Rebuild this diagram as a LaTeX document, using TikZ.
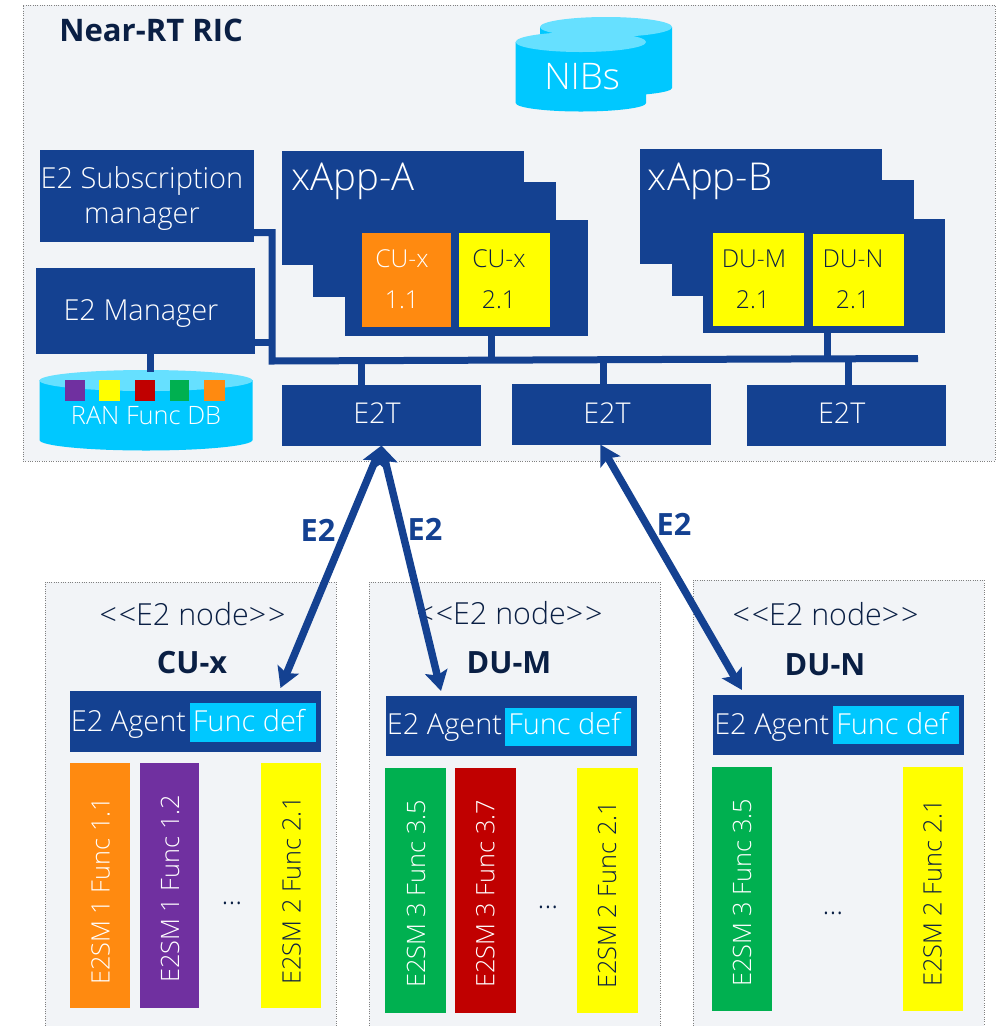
\documentclass[tikz,border=0pt]{standalone}
\usepackage{fontspec}
\setmainfont{Open Sans Light}[BoldFont={Open Sans Bold}]
\usetikzlibrary{arrows.meta}
\definecolor{navy}{HTML}{144191}
\definecolor{panel}{HTML}{F2F4F7}
\definecolor{inkdark}{HTML}{0A1F44}
\definecolor{sky}{HTML}{00C8FF}
\definecolor{skytop}{HTML}{66E0FF}
\definecolor{fnorange}{HTML}{FF8A10}
\definecolor{fnpurple}{HTML}{7030A0}
\definecolor{fnred}{HTML}{C00000}
\definecolor{fngreen}{HTML}{00B050}
\definecolor{fnyellow}{HTML}{FFFF00}
\newcommand{\fpx}[1]{\fontsize{#1}{#1}\selectfont}
\newcommand{\bx}[7]{%
  \pgfmathsetmacro\cxx{(#2+#4)/2}\pgfmathsetmacro\cyy{(#3+#5)/2}%
  \pgfmathsetmacro\wxx{(#4-#2)*0.75}\pgfmathsetmacro\hyy{(#5-#3)*0.75}%
  \node[#6,minimum width=\wxx pt,minimum height=\hyy pt,inner sep=0pt,outer sep=0pt] (#1) at (\cxx,\cyy) {#7};}
\newcommand{\nodetagtext}{<\kern1.5pt<E2 node>\kern1.5pt>}
\tikzset{
  box/.style={fill=navy},
  panelbox/.style={fill=panel},
  border/.style={draw=gray,densely dotted,line width=0.75pt},
  link/.style={draw=navy,line width=5.25pt},
  biarrow/.style={draw=navy,line width=5.6pt,{Stealth[length=15pt,width=17pt,inset=3pt]}-{Stealth[length=15pt,width=17pt,inset=3pt]}},
  wtxt/.style={text=white,anchor=base,inner sep=0pt,font=\fpx{21.7}},
  dtxt/.style={text=inkdark,anchor=base,inner sep=0pt,font=\fpx{21.7}},
  small/.style={font=\fpx{18.5}},
  e2ttxt/.style={font=\fpx{21.5}},
  nodetag/.style={font=\fpx{22.8}},
  fnw/.style={text=white,rotate=90,anchor=base,inner sep=0pt,font=\fpx{19}},
  fnd/.style={text=inkdark,rotate=90,anchor=base,inner sep=0pt,font=\fpx{19}},
  bold/.style={font=\fpx{23}\bfseries},
  e2lab/.style={text=navy,anchor=base,inner sep=0pt,font=\fpx{23}\bfseries},
}
\begin{document}
\begin{tikzpicture}[x=0.75pt,y=-0.75pt]
\useasboundingbox (0,0) rectangle (999,1026);
% main panel
\bx{ric}{23}{5}{995}{461}{panelbox,border}{}
\node[dtxt,anchor=base west,font=\fpx{23.3}\bfseries] (rictitle) at (59,41.7) {Near-RT RIC};
% NIBs
\fill[sky] (540,27) -- (540,88) arc[start angle=180,end angle=0,x radius=66,y radius=8] -- (672,27) -- cycle;
\fill[skytop] (606,27) ellipse[x radius=66,y radius=10];
\fill[sky] (515.7,42) -- (515.7,103) arc[start angle=180,end angle=0,x radius=65.2,y radius=8.5] -- (646,42) -- cycle;
\fill[skytop] (580.85,42) ellipse[x radius=65.2,y radius=10];
\node[wtxt,anchor=base west,font=\fpx{27.5}] (nibs) at (544,89) {NIBs};
% xApp stacks
\bx{xa1}{282}{151}{524}{265}{box}{}
\bx{xa2}{313}{181.5}{555.5}{297}{box}{}
\bx{xa3}{345}{220}{587.5}{336}{box}{}
\node[wtxt,anchor=base west,font=\fpx{28.8}] (xat) at (291,190.7) {xApp-A};
\bx{xb1}{640}{148.5}{882}{264}{box}{}
\bx{xb2}{671.5}{180}{913.5}{295.5}{box}{}
\bx{xb3}{703}{219}{945}{333}{box}{}
\node[wtxt,anchor=base west,font=\fpx{28.8}] (xbt) at (647.7,190.7) {xApp-B};
% RAN functions in xApps
\bx{ca}{362}{232.5}{451}{327}{fill=fnorange}{}
\bx{cb}{458.5}{232.5}{550}{327}{fill=fnyellow}{}
\bx{da}{713}{232.5}{804}{326}{fill=fnyellow}{}
\bx{db}{812.5}{234}{904}{326}{fill=fnyellow}{}
\node[wtxt,small] (cat) at (402,267.7) {CU-x};
\node[wtxt,small] (can) at (402,308) {1.1};
\node[dtxt,small] (cbt) at (499,267.7) {CU-x};
\node[dtxt,small] (cbn) at (499,308) {2.1};
\node[dtxt,small] (dat) at (754,267.7) {DU-M};
\node[dtxt,small] (dan) at (753,308) {2.1};
\node[dtxt,small] (dbt) at (853,267.7) {DU-N};
\node[dtxt,small] (dbn) at (853,308) {2.1};
% managers
\bx{sub}{39.5}{150}{253.5}{242}{box}{}
\node[wtxt] (subt) at (142,188) {E2 Subscription};
\node[wtxt] (subm) at (142,223) {manager};
\bx{mgr}{36}{268}{255}{354}{box}{}
\node[wtxt] (mgrt) at (141,320) {E2 Manager};
% RAN Func DB
\fill[sky] (39.5,380) -- (39.5,440) arc[start angle=180,end angle=0,x radius=106.5,y radius=10.5] -- (252.5,380) -- cycle;
\fill[skytop] (146,380.5) ellipse[x radius=106.5,y radius=10.5];
\bx{s1}{65}{380}{84.5}{401}{fill=fnpurple}{}
\bx{s2}{99}{380}{120}{401}{fill=fnyellow}{}
\bx{s3}{134.5}{380}{155}{401}{fill=fnred}{}
\bx{s4}{170}{380}{189}{401}{fill=fngreen}{}
\bx{s5}{204}{380}{224.5}{401}{fill=fnorange}{}
\node[wtxt,font=\fpx{19}] (dbt2) at (146,424) {RAN Func DB};
% E2T
\bx{e1}{282}{385}{481}{445.5}{box}{}
\bx{e2}{512}{384}{710.5}{444.5}{box}{}
\bx{e3}{747}{385}{945.5}{445.5}{box}{}
\node[wtxt,e2ttxt] (e1t) at (377,423.3) {E2T};
\node[wtxt,e2ttxt] (e2t) at (607,423) {E2T};
\node[wtxt,e2ttxt] (e3t) at (841.7,423) {E2T};
% bus
\coordinate (subj) at (272,232.5);
\coordinate (mgrj) at (272,342);
\coordinate (busL) at (272,361);
\coordinate (busR) at (918,358.5);
\coordinate (dbtop) at (150,372);
\coordinate (xaj) at (491.5,360);
\coordinate (xbj) at (827,359);
\coordinate (e1j) at (361,360);
\coordinate (e2j) at (603,359);
\coordinate (e3j) at (848,359);
\draw[link] (subj -| sub.east) -- (subj) -- (busL) -- (busR);
\draw[link] (mgrj -| mgr.east) -- (mgrj);
\draw[link] (dbtop |- mgr.south) -- (dbtop);
\draw[link] (xaj |- xa3.south) -- (xaj);
\draw[link] (xbj |- xb3.south) -- (xbj);
\draw[link] (e1j) -- (e1j |- e1.north);
\draw[link] (e2j) -- (e2j |- e2.north);
\draw[link] (e3j) -- (e3j |- e3.north);
% E2 node CU-x
\bx{n1}{45}{582}{336}{1026}{panelbox}{}
\draw[border] (n1.south west) -- (n1.north west) -- (n1.north east) -- (n1.south east);
\node[dtxt,nodetag] (n1a) at (192.5,625) {\nodetagtext};
\node[dtxt,bold] (n1b) at (192,673.3) {CU-x};
\bx{ag1}{70}{691}{321}{752}{box}{}
\bx{fd1}{189.5}{703}{316}{742}{fill=sky}{}
\node[wtxt,anchor=base west] (ag1t) at (70.7,731.7) {E2 Agent};
\node[wtxt,anchor=base west] (fd1t) at (192.7,731.7) {Func def};
\bx{f11}{70}{763}{130}{1007.5}{fill=fnorange}{}
\bx{f12}{139.5}{763}{199}{1007.5}{fill=fnpurple}{}
\bx{f13}{261}{763}{321}{1007.5}{fill=fnyellow}{}
\node[fnw] (f11t) at (109.5,891) {E2SM 1 Func 1.1};
\node[fnw] (f12t) at (179,889) {E2SM 1 Func 1.2};
\node[fnd] (f13t) at (300.7,890.5) {E2SM 2 Func 2.1};
\node[dtxt] (d1) at (232,904) {...};
% E2 node DU-M
\bx{n2}{369}{582}{660}{1026}{panelbox}{}
\draw[border] (n2.south west) -- (n2.north west) -- (n2.north east) -- (n2.south east);
\node[dtxt,nodetag] (n2a) at (509.5,624.3) {\nodetagtext};
\node[dtxt,bold] (n2b) at (509,673) {DU-M};
\bx{ag2}{385.5}{696}{636.5}{755.5}{box}{}
\bx{fd2}{504.5}{708}{631}{745.5}{fill=sky}{}
\node[wtxt,anchor=base west] (ag2t) at (386.7,734.3) {E2 Agent};
\node[wtxt,anchor=base west] (fd2t) at (508,734.3) {Func def};
\bx{f21}{385}{767.5}{446}{1012.5}{fill=fngreen}{}
\bx{f22}{455}{767.5}{515.5}{1012.5}{fill=fnred}{}
\bx{f23}{576.5}{767.5}{637.5}{1012.5}{fill=fnyellow}{}
\node[fnw] (f21t) at (425,894) {E2SM 3 Func 3.5};
\node[fnw] (f22t) at (494.3,894) {E2SM 3 Func 3.7};
\node[fnd] (f23t) at (616,895) {E2SM 2 Func 2.1};
\node[dtxt] (d2) at (548,908) {...};
% E2 node DU-N
\bx{n3}{693}{580}{984}{1026}{panelbox}{}
\draw[border] (n3.south west) -- (n3.north west) -- (n3.north east) -- (n3.south east);
\node[dtxt,nodetag] (n3a) at (825.5,625) {\nodetagtext};
\node[dtxt,bold] (n3b) at (825,675) {DU-N};
\bx{ag3}{713}{695}{964}{755}{box}{}
\bx{fd3}{833}{706}{959}{744}{fill=sky}{}
\node[wtxt,anchor=base west] (ag3t) at (714,734) {E2 Agent};
\node[wtxt,anchor=base west] (fd3t) at (836,734) {Func def};
\bx{f31}{712}{767}{772}{1011}{fill=fngreen}{}
\bx{f32}{903}{767}{963}{1011}{fill=fnyellow}{}
\node[fnw] (f31t) at (751,893) {E2SM 3 Func 3.5};
\node[fnd] (f32t) at (941.7,893) {E2SM 2 Func 2.1};
\node[dtxt] (d3) at (833,914) {...};
% E2 arrows
\draw[biarrow] (e1.south) -- ([shift={(85,-3)}]ag1.north);
\draw[biarrow] (e1.south) -- ([shift={(-70,-5)}]ag2.north);
\draw[biarrow] ([shift={(-11,0)}]e2.south) -- ([shift={(-96.5,-5)}]ag3.north);
\node[e2lab] (l1) at (318,541) {E2};
\node[e2lab] (l2) at (425,540) {E2};
\node[e2lab] (l3) at (674,535) {E2};
\end{tikzpicture}
\end{document}
